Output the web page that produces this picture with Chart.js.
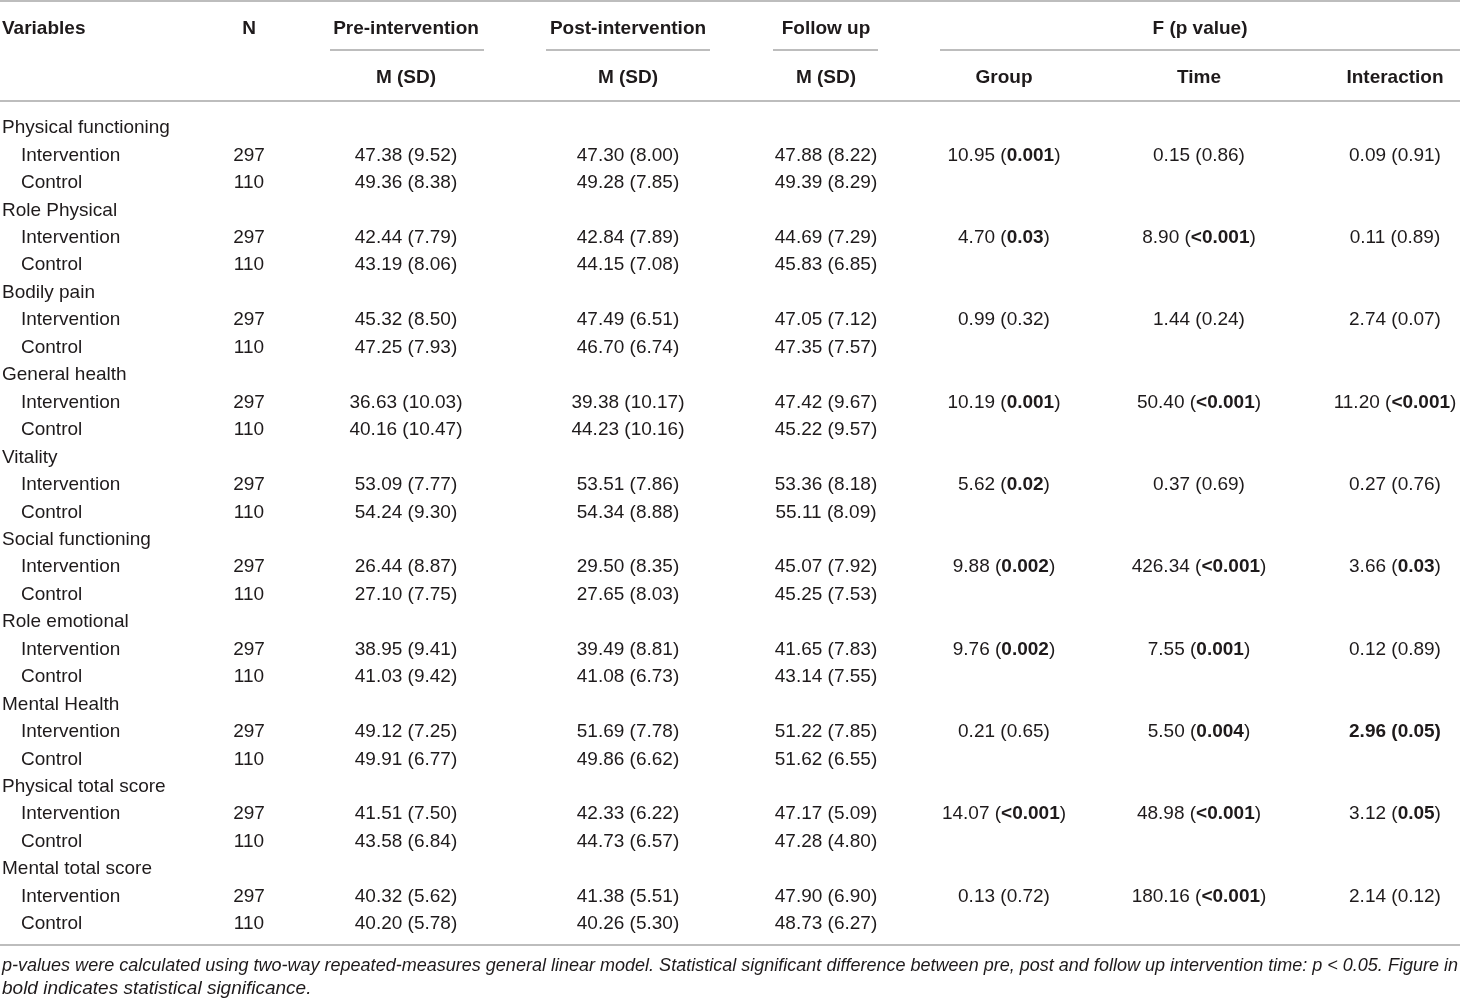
<!DOCTYPE html>
<html>
<head>
<meta charset="utf-8">
<script src="https://cdn.jsdelivr.net/npm/chart.js@4.4.1/dist/chart.umd.min.js"></script>
<style>
  html, body { margin: 0; padding: 0; background: #fff; }
  #tableChart { display: block; }
</style>
</head>
<body>
<canvas id="tableChart" width="1460" height="1002"></canvas>
<script>
// table content
const variables = ['Physical functioning', 'Role Physical', 'Bodily pain', 'General health', 'Vitality',
  'Social functioning', 'Role emotional', 'Mental Health', 'Physical total score', 'Mental total score'];
const groups = ['Intervention', 'Control'];
const nValues = [297, 110];

const preInt = ['47.38 (9.52)', '42.44 (7.79)', '45.32 (8.50)', '36.63 (10.03)', '53.09 (7.77)',
  '26.44 (8.87)', '38.95 (9.41)', '49.12 (7.25)', '41.51 (7.50)', '40.32 (5.62)'];
const preCtl = ['49.36 (8.38)', '43.19 (8.06)', '47.25 (7.93)', '40.16 (10.47)', '54.24 (9.30)',
  '27.10 (7.75)', '41.03 (9.42)', '49.91 (6.77)', '43.58 (6.84)', '40.20 (5.78)'];
const postInt = ['47.30 (8.00)', '42.84 (7.89)', '47.49 (6.51)', '39.38 (10.17)', '53.51 (7.86)',
  '29.50 (8.35)', '39.49 (8.81)', '51.69 (7.78)', '42.33 (6.22)', '41.38 (5.51)'];
const postCtl = ['49.28 (7.85)', '44.15 (7.08)', '46.70 (6.74)', '44.23 (10.16)', '54.34 (8.88)',
  '27.65 (8.03)', '41.08 (6.73)', '49.86 (6.62)', '44.73 (6.57)', '40.26 (5.30)'];
const followInt = ['47.88 (8.22)', '44.69 (7.29)', '47.05 (7.12)', '47.42 (9.67)', '53.36 (8.18)',
  '45.07 (7.92)', '41.65 (7.83)', '51.22 (7.85)', '47.17 (5.09)', '47.90 (6.90)'];
const followCtl = ['49.39 (8.29)', '45.83 (6.85)', '47.35 (7.57)', '45.22 (9.57)', '55.11 (8.09)',
  '45.25 (7.53)', '43.14 (7.55)', '51.62 (6.55)', '47.28 (4.80)', '48.73 (6.27)'];

// ** marks bold (significant) parts
const groupF = ['10.95 (**0.001**)', '4.70 (**0.03**)', '0.99 (0.32)', '10.19 (**0.001**)', '5.62 (**0.02**)',
  '9.88 (**0.002**)', '9.76 (**0.002**)', '0.21 (0.65)', '14.07 (**<0.001**)', '0.13 (0.72)'];
const timeF = ['0.15 (0.86)', '8.90 (**<0.001**)', '1.44 (0.24)', '50.40 (**<0.001**)', '0.37 (0.69)',
  '426.34 (**<0.001**)', '7.55 (**0.001**)', '5.50 (**0.004**)', '48.98 (**<0.001**)', '180.16 (**<0.001**)'];
const interF = ['0.09 (0.91)', '0.11 (0.89)', '2.74 (0.07)', '11.20 (**<0.001**)', '0.27 (0.76)',
  '3.66 (**0.03**)', '0.12 (0.89)', '**2.96 (0.05)**', '3.12 (**0.05**)', '2.14 (0.12)'];

const headTop = ['Variables', 'N', 'Pre-intervention', 'Post-intervention', 'Follow up', 'F (p value)'];
const headSub = ['M (SD)', 'M (SD)', 'M (SD)', 'Group', 'Time', 'Interaction'];
const footnote = [
  'p-values were calculated using two-way repeated-measures general linear model. Statistical significant difference between pre, post and follow up intervention time: p < 0.05. Figure in',
  'bold indicates statistical significance.'
];

// layout
const W = 1460, H = 1002;
const colN = 249, colPre = 406, colPost = 628, colFollow = 826;
const colGroup = 1004, colTime = 1199, colInter = 1395, colF = 1200;
const firstRow = 126, rowStep = 27.45;
const TEXT_DY = 2;
const textColor = '#1e1a1b';
const ruleColor = '#a7a7a7';
const FONT = '"Liberation Sans", Arial, sans-serif';
const SIZE = 19;

function segments(str) {
  return str.split('**').map((t, i) => ({ t, bold: i % 2 === 1 })).filter(s => s.t.length);
}

function drawRich(ctx, str, x, y, align) {
  const segs = segments(str);
  let total = 0;
  segs.forEach(s => {
    ctx.font = (s.bold ? 'bold ' : '') + SIZE + 'px ' + FONT;
    s.w = ctx.measureText(s.t).width;
    total += s.w;
  });
  let cx = align === 'left' ? x : x - total / 2;
  segs.forEach(s => {
    ctx.font = (s.bold ? 'bold ' : '') + SIZE + 'px ' + FONT;
    ctx.textAlign = 'left';
    ctx.fillText(s.t, cx, y + TEXT_DY);
    cx += s.w;
  });
}

const tablePlugin = {
  id: 'tablePlugin',
  afterDraw(chart) {
    const ctx = chart.ctx;
    const xs = chart.scales.x, ys = chart.scales.y;
    const px = v => xs.getPixelForValue(v);
    const py = v => ys.getPixelForValue(v);

    ctx.save();
    ctx.fillStyle = textColor;
    ctx.textBaseline = 'middle';

    // rules
    ctx.strokeStyle = ruleColor;
    ctx.lineWidth = 1.3;
    const hline = (x1, x2, y) => {
      ctx.beginPath();
      ctx.moveTo(px(x1), py(y));
      ctx.lineTo(px(x2), py(y));
      ctx.stroke();
    };
    hline(0, W, 1);
    hline(330, 484, 50);
    hline(546, 710, 50);
    hline(773, 878, 50);
    hline(940, W, 50);
    hline(0, W, 101);
    hline(0, W, 945);

    // header
    const topX = [2, colN, colPre, colPost, colFollow, colF];
    headTop.forEach((h, i) => drawRich(ctx, '**' + h + '**', px(topX[i]), py(27), i === 0 ? 'left' : 'center'));
    const subX = [colPre, colPost, colFollow, colGroup, colTime, colInter];
    headSub.forEach((h, i) => drawRich(ctx, '**' + h + '**', px(subX[i]), py(76), 'center'));

    // body
    const ctlCols = [preCtl, postCtl, followCtl];
    const intCols = [preInt, postInt, followInt];
    const mCols = [colPre, colPost, colFollow];
    variables.forEach((v, k) => {
      const y0 = firstRow + k * 3 * rowStep;
      drawRich(ctx, v, px(2), py(y0), 'left');
      groups.forEach((g, j) => {
        const y = y0 + (j + 1) * rowStep;
        drawRich(ctx, g, px(21), py(y), 'left');
        drawRich(ctx, String(nValues[j]), px(colN), py(y), 'center');
        const cols = j === 0 ? intCols : ctlCols;
        cols.forEach((c, m) => drawRich(ctx, c[k], px(mCols[m]), py(y), 'center'));
        if (j === 0) {
          drawRich(ctx, groupF[k], px(colGroup), py(y), 'center');
          drawRich(ctx, timeF[k], px(colTime), py(y), 'center');
          drawRich(ctx, interF[k], px(colInter), py(y), 'center');
        }
      });
    });

    // footnote
    ctx.font = 'italic ' + SIZE + 'px ' + FONT;
    ctx.textAlign = 'left';
    ctx.fillText(footnote[0], px(2), py(964) + TEXT_DY, W - 4);
    ctx.fillText(footnote[1], px(2), py(987) + TEXT_DY);
    ctx.restore();
  }
};

new Chart(document.getElementById('tableChart'), {
  type: 'scatter',
  data: { datasets: [] },
  options: {
    responsive: false,
    animation: false,
    layout: { padding: 0 },
    plugins: { legend: { display: false }, tooltip: { enabled: false } },
    scales: {
      x: { type: 'linear', min: 0, max: W, display: false },
      y: { type: 'linear', min: 0, max: H, reverse: true, display: false }
    }
  },
  plugins: [tablePlugin]
});
</script>
</body>
</html>
